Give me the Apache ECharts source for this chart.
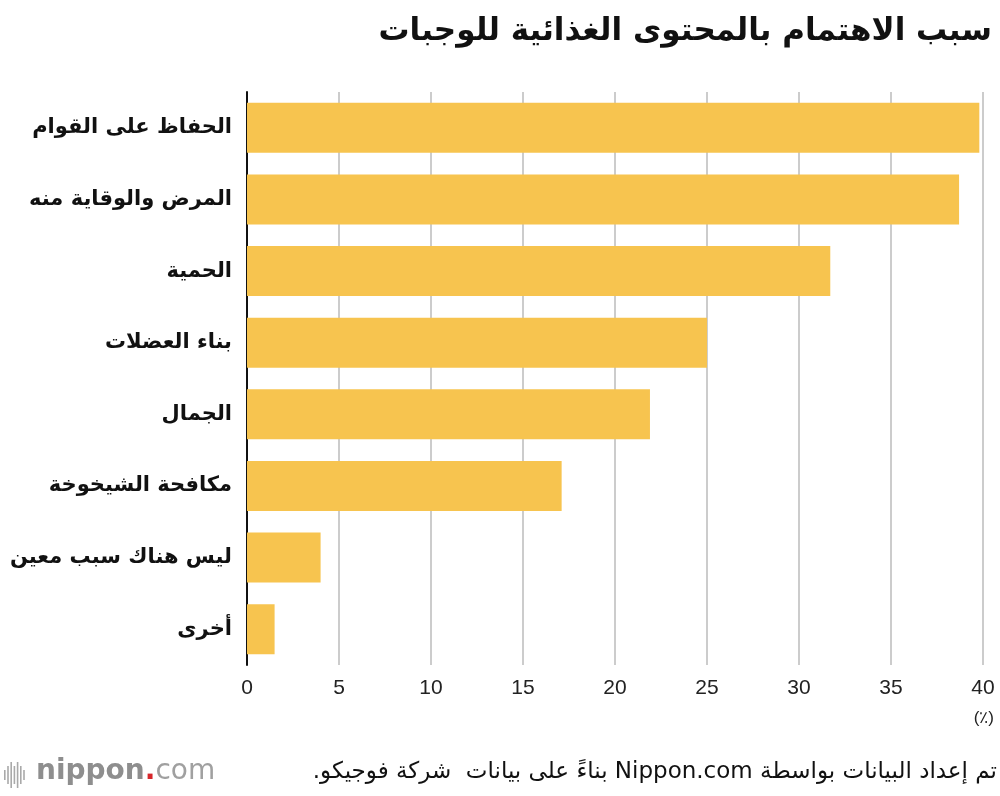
<!DOCTYPE html>
<html>
<head>
<meta charset="utf-8">
<script src="https://cdn.jsdelivr.net/npm/echarts@6/dist/echarts.min.js"></script>
<style>
  html, body { margin: 0; padding: 0; background: #fff; }
  #chart { width: 1000px; height: 796px; }
</style>
</head>
<body>
<div id="chart" dir="rtl"></div>
<script>
// categories, top to bottom
var reasons = [
  'الحفاظ على القوام',
  'المرض والوقاية منه',
  'الحمية',
  'بناء العضلات',
  'الجمال',
  'مكافحة الشيخوخة',
  'ليس هناك سبب معين',
  'أخرى'
];
// percentages
var shares = [39.8, 38.7, 31.7, 25.0, 21.9, 17.1, 4.0, 1.5];

var titleText = 'سبب الاهتمام بالمحتوى الغذائية للوجبات';
var sourceText = 'تم إعداد البيانات بواسطة Nippon.com بناءً على بيانات  شركة فوجيكو.';
var unitText = '(٪)';

var arabicFont = '"DejaVu Sans", sans-serif';
var numFont = '"Liberation Sans", Arial, sans-serif';

var chart = echarts.init(document.getElementById('chart'));

// logo bars (left of nippon.com)
var logoBars = [];
var barH = [10, 18, 26, 18, 26, 18, 10];
for (var i = 0; i < barH.length; i++) {
  logoBars.push({
    type: 'rect',
    shape: { x: 4 + i * 3.2, y: 775 - barH[i] / 2, width: 1.6, height: barH[i] },
    style: { fill: '#a9a9a9' }
  });
}

chart.setOption({
  animation: false,
  title: {
    text: titleText,
    right: 3,
    top: 11,
    textStyle: { fontFamily: arabicFont, fontWeight: 'bold', fontSize: 31, color: '#111' }
  },
  grid: { left: 247, right: 17, top: 92, bottom: 131, containLabel: false },
  xAxis: {
    type: 'value',
    min: 0, max: 40, interval: 5,
    axisLine: { show: false },
    axisTick: { show: false },
    splitLine: { lineStyle: { color: '#cccccc', width: 2 } },
    axisLabel: { color: '#222', fontFamily: numFont, fontSize: 21, margin: 13 }
  },
  yAxis: {
    type: 'category',
    data: reasons,
    inverse: true,
    axisLine: { lineStyle: { color: '#111', width: 2 } },
    axisTick: { show: false },
    axisLabel: { color: '#111', fontFamily: arabicFont, fontWeight: 'bold', fontSize: 21, margin: 15 }
  },
  series: [{
    type: 'bar',
    data: shares,
    barWidth: 50,
    itemStyle: { color: '#F7C44F' }
  }],
  graphic: logoBars.concat([
    {
      type: 'text',
      right: 6, top: 710,
      style: { text: unitText, fontFamily: numFont, fontSize: 17, fill: '#222' }
    },
    {
      type: 'text',
      left: 36, top: 758,
      style: {
        text: '{a|nippon}{b|.}{c|com}',
        rich: {
          a: { fontFamily: '"DejaVu Sans", sans-serif', fontWeight: 'bold', fontSize: 28, fill: '#8e8e8e' },
          b: { fontFamily: '"DejaVu Sans", sans-serif', fontWeight: 'bold', fontSize: 28, fill: '#d7262b' },
          c: { fontFamily: '"DejaVu Sans", sans-serif', fontWeight: 'normal', fontSize: 28, fill: '#a0a0a0' }
        }
      }
    },
    {
      type: 'text',
      right: 3, top: 761,
      style: { text: sourceText, fontFamily: arabicFont, fontSize: 23, fill: '#111' }
    }
  ])
});
</script>
</body>
</html>
